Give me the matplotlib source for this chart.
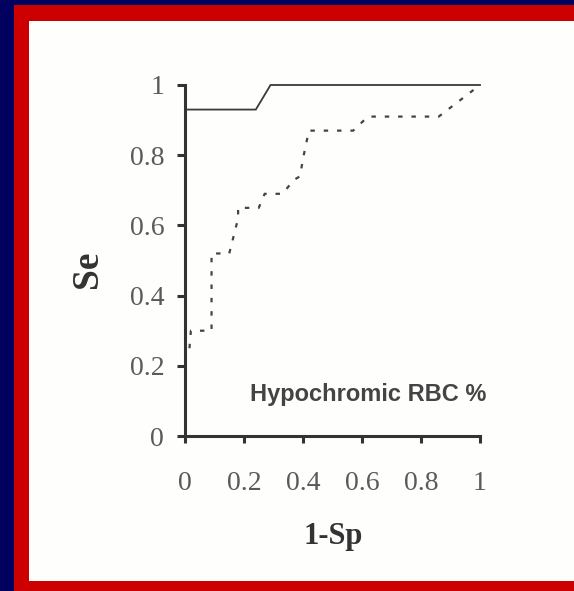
import matplotlib
matplotlib.use("Agg")
import matplotlib.pyplot as plt
from matplotlib.patches import Rectangle

# ROC curves: Se vs 1-Sp
solid_x = [0.0, 0.0, 0.24, 0.29, 1.0]
solid_y = [0.0, 0.93, 0.93, 1.0, 1.0]

dotted_x = [0.015, 0.02, 0.09, 0.09, 0.15, 0.18, 0.18, 0.25, 0.27, 0.33,
            0.37, 0.39, 0.40, 0.42, 0.57, 0.62, 0.86, 1.0]
dotted_y = [0.25, 0.30, 0.30, 0.52, 0.52, 0.62, 0.65, 0.65, 0.69, 0.69,
            0.73, 0.74, 0.79, 0.87, 0.87, 0.91, 0.91, 1.0]

ticks = [0, 0.2, 0.4, 0.6, 0.8, 1]
tick_labels = ["0", "0.2", "0.4", "0.6", "0.8", "1"]

W, H = 574, 591
fig = plt.figure(figsize=(W / 100, H / 100), dpi=100)
fig.patch.set_facecolor("#00005e")

# slide frame: red border with white panel
fig.patches.append(Rectangle((14 / W, 0), 1, (H - 5) / H, transform=fig.transFigure,
                             facecolor="#cc0000", edgecolor="none", zorder=-2))
fig.patches.append(Rectangle((29 / W, 10 / H), 1, (H - 21 - 10) / H, transform=fig.transFigure,
                             facecolor="#fefefd", edgecolor="none", zorder=-1))

ax = fig.add_axes([185 / W, (H - 436) / H, 295 / W, 351 / H])
ax.set_facecolor("none")

ink = "#3a3a3a"
ax.plot(solid_x, solid_y, color=ink, lw=1.3, clip_on=False, solid_joinstyle="miter")
ax.plot(dotted_x, dotted_y, color="#444444", lw=1.6, linestyle=(0, (2, 4)), clip_on=False)

ax.set_xlim(0, 1)
ax.set_ylim(0, 1)
for side in ("top", "right"):
    ax.spines[side].set_visible(False)
for side in ("left", "bottom"):
    ax.spines[side].set_linewidth(2.2)
    ax.spines[side].set_color("#333333")

serif = ["Liberation Serif", "DejaVu Serif"]
ax.set_xticks(ticks)
ax.set_yticks(ticks)
ax.set_xticklabels(tick_labels, family=serif, fontsize=20, color="#5a5a5a")
ax.set_yticklabels(tick_labels, family=serif, fontsize=20, color="#5a5a5a")
ax.tick_params(axis="y", direction="out", length=6, width=2.2, color="#333333", pad=9)
ax.tick_params(axis="x", direction="out", length=5, width=2.2, color="#333333", pad=20)

ax.text(-0.329, 0.476, "Se", transform=ax.transAxes, rotation=90, ha="center", va="center",
        family=serif, fontweight="bold", fontsize=27, color="#333333")
ax.text(0.502, -0.285, "1-Sp", transform=ax.transAxes, ha="center", va="center",
        family=serif, fontweight="bold", fontsize=22, color="#333333")
ax.text(1.02, 0.117, "Hypochromic RBC %", transform=ax.transAxes, ha="right", va="center",
        family=["Liberation Sans", "DejaVu Sans"], fontweight="bold", fontsize=17,
        color="#444444")

fig.savefig("out.png", dpi=100, facecolor=fig.get_facecolor())
